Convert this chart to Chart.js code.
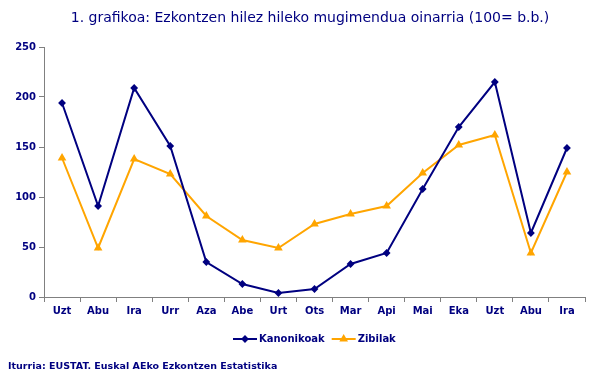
<!DOCTYPE html>
<html>
<head>
<meta charset="utf-8">
<script src="https://cdn.jsdelivr.net/npm/chart.js@4/dist/chart.umd.min.js"></script>
<style>
  html, body { margin: 0; padding: 0; background: #fff; }
  #wrap { width: 615px; height: 384px; position: relative; }
</style>
</head>
<body>
<div id="wrap"><canvas id="chart" width="615" height="384"></canvas></div>
<script>
const months = ['Uzt', 'Abu', 'Ira', 'Urr', 'Aza', 'Abe', 'Urt', 'Ots', 'Mar', 'Api', 'Mai', 'Eka', 'Uzt', 'Abu', 'Ira'];
const kanonikoak = [194, 91, 209, 151, 35, 13, 4, 8, 33, 44, 108, 170, 215, 64, 149];
const zibilak = [139, 49, 138, 123, 81, 57, 49, 73, 83, 91, 124, 152, 162, 44, 125];
const yTicks = [0, 50, 100, 150, 200, 250];

const navy = '#000080';
const orange = '#FFA500';
const axisGray = '#808080';
const fontFam = '"DejaVu Sans", Verdana, sans-serif';

// title, legend and source note drawn by hand so they sit where the original does
const textPlugin = {
  id: 'texts',
  afterDraw(chart) {
    const ctx = chart.ctx;
    ctx.save();
    ctx.fillStyle = navy;
    ctx.textBaseline = 'middle';
    ctx.font = '14px ' + fontFam;
    ctx.textAlign = 'center';
    ctx.fillText('1. grafikoa: Ezkontzen hilez hileko mugimendua oinarria (100= b.b.)', 310, 18);

    // legend
    ctx.font = 'bold 10px ' + fontFam;
    ctx.textAlign = 'left';
    let x = 233;
    const y = 339;
    chart.data.datasets.forEach((ds) => {
      ctx.strokeStyle = ds.borderColor;
      ctx.lineWidth = 2;
      ctx.beginPath();
      ctx.moveTo(x, y);
      ctx.lineTo(x + 24, y);
      ctx.stroke();
      Chart.helpers.drawPoint(ctx, {
        pointStyle: ds.pointStyle, radius: ds.pointRadius, rotation: 0, borderWidth: 1
      }, x + 12, y);
      ctx.fillStyle = ds.borderColor;
      ctx.fill();
      ctx.fillStyle = navy;
      ctx.fillText(ds.label, x + 26, y);
      x += 26 + ctx.measureText(ds.label).width + 7;
    });

    ctx.font = 'bold 9.5px ' + fontFam;
    ctx.fillText('Iturria: EUSTAT. Euskal AEko Ezkontzen Estatistika', 8, 367);
    ctx.restore();
  }
};

new Chart(document.getElementById('chart'), {
  type: 'line',
  data: {
    labels: months,
    datasets: [
      {
        label: 'Kanonikoak',
        data: kanonikoak,
        borderColor: navy,
        backgroundColor: navy,
        borderWidth: 2,
        pointStyle: 'rectRot',
        pointRadius: 2.5,
        tension: 0
      },
      {
        label: 'Zibilak',
        data: zibilak,
        borderColor: orange,
        backgroundColor: orange,
        borderWidth: 2,
        pointStyle: 'triangle',
        pointRadius: 3,
        tension: 0
      }
    ]
  },
  options: {
    responsive: false,
    animation: false,
    layout: { padding: { left: 0, right: 30, top: 47, bottom: 0 } },
    plugins: {
      legend: { display: false },
      title: { display: false },
      tooltip: { enabled: false }
    },
    scales: {
      x: {
        offset: true,
        grid: { offset: true, drawOnChartArea: false, tickLength: 5, color: axisGray },
        border: { color: axisGray, width: 1 },
        ticks: {
          color: navy,
          font: { family: fontFam, size: 10, weight: 'bold' },
          maxRotation: 0,
          autoSkip: false,
          padding: 3
        },
        afterFit(scale) { scale.height = 87; }
      },
      y: {
        min: 0,
        max: 250,
        afterBuildTicks(scale) { scale.ticks = yTicks.map(v => ({ value: v })); },
        grid: { drawOnChartArea: false, tickLength: 5, color: axisGray },
        border: { color: axisGray, width: 1 },
        ticks: {
          color: navy,
          font: { family: fontFam, size: 10, weight: 'bold' },
          padding: 3
        },
        afterFit(scale) { scale.width = 44; }
      }
    }
  },
  plugins: [textPlugin]
});
</script>
</body>
</html>
